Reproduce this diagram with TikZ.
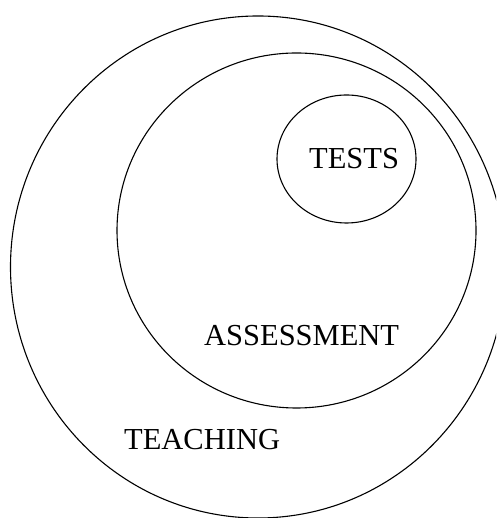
\documentclass[tikz,border=0pt]{standalone}
\usepackage{fontspec}
\setmainfont{Liberation Serif}
\usetikzlibrary{shapes.geometric}
\begin{document}
\begin{tikzpicture}[x=1pt,y=1pt,
  ring/.style={draw=black, line width=1.1pt, ellipse, inner sep=0pt},
  lbl/.style={inner sep=0pt, anchor=base west, font=\fontsize{30.5}{33}\selectfont, text=black}]
\useasboundingbox (0,0) rectangle (496,518);
\clip (0,0) rectangle (496,518);
\node[ring, minimum width=495pt, minimum height=502pt] (teach) at (258,251) {};
\node[ring, minimum width=359pt, minimum height=355pt] (assess) at (296.5,287.5) {};
\node[ring, minimum width=139pt, minimum height=128pt] (tests) at (346.5,359) {};
\node[lbl] (tt) at (309,349) {TESTS};
\node[lbl] (ta) at (204,172) {ASSESSMENT};
\node[lbl] (tc) at (124,68) {TEACHING};
\end{tikzpicture}
\end{document}
